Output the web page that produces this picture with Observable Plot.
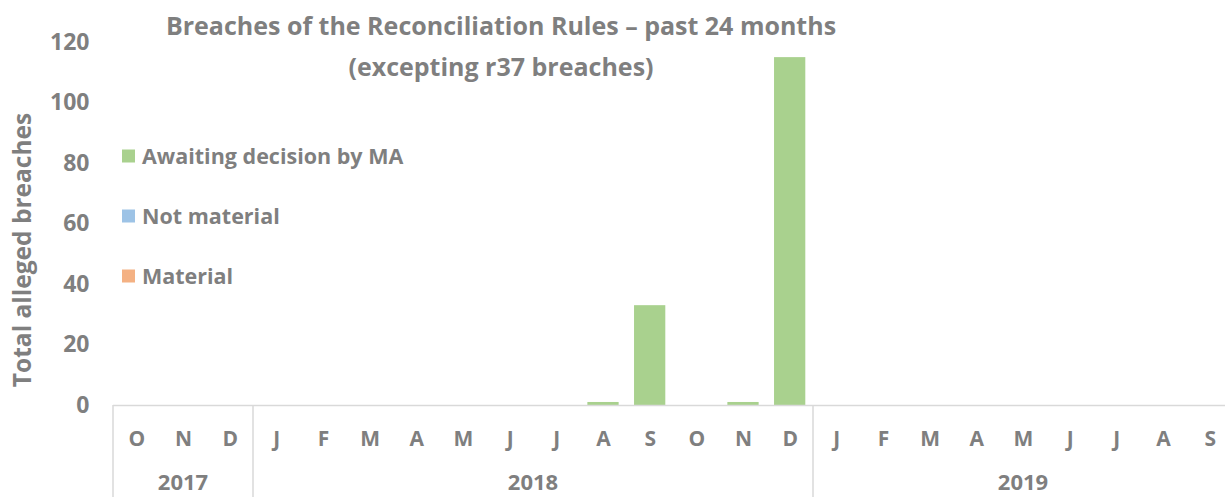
<!DOCTYPE html>
<html>
<head>
<meta charset="utf-8">
<script src="https://cdn.jsdelivr.net/npm/d3@7"></script>
<script src="https://cdn.jsdelivr.net/npm/@observablehq/plot@0.6"></script>
<style>
  html, body { margin: 0; padding: 0; background: #fff; }
  svg { display: block; }
</style>
</head>
<body>
<div id="chart"></div>
<script>
const monthLabels = ["O","N","D","J","F","M","A","M","J","J","A","S","O","N","D","J","F","M","A","M","J","J","A","S"];
const yearLabels  = ["2017","2017","2017","2018","2018","2018","2018","2018","2018","2018","2018","2018","2018","2018","2018","2019","2019","2019","2019","2019","2019","2019","2019","2019"];
const awaiting    = [0,0,0,0,0,0,0,0,0,0,1,33,0,1,115,0,0,0,0,0,0,0,0,0];
const notMaterial = [0,0,0,0,0,0,0,0,0,0,0,0,0,0,0,0,0,0,0,0,0,0,0,0];
const material    = [0,0,0,0,0,0,0,0,0,0,0,0,0,0,0,0,0,0,0,0,0,0,0,0];
const seriesNames = ["Awaiting decision by MA","Not material","Material"];
const seriesColors = ["#a9d18e","#9dc3e6","#f4b183"];
const yTicks = [0,20,40,60,80,100,120];
const titleLines = ["Breaches of the Reconciliation Rules \u2013 past 24 months","(excepting r37 breaches)"];
const yTitle = "Total alleged breaches";

const keys = monthLabels.map((m,i) => i);
const seriesValues = [awaiting, notMaterial, material];
const data = [];
// stack order bottom -> top: Material, Not material, Awaiting
[2,1,0].forEach(s => keys.forEach(k => data.push({key:k, series:seriesNames[s], value:seriesValues[s][k]})));

const FONT = "'Open Sans', Lato, sans-serif";
const GRAY = "#7f7f7f";

const plot = Plot.plot({
  width: 1225,
  height: 497,
  marginLeft: 113,
  marginRight: 0,
  marginTop: 42,
  marginBottom: 92,
  style: {fontFamily: FONT, fontWeight: "bold", color: GRAY, background: "#fff"},
  x: {type: "band", domain: keys, range: [113, 1233], paddingInner: 0.33, paddingOuter: 0.165, round: false},
  y: {domain: [0, 120]},
  color: {domain: seriesNames, range: seriesColors},
  marks: [
    Plot.barY(data, {x: "key", y: "value", fill: "series", order: [seriesNames[2], seriesNames[1], seriesNames[0]]}),
    Plot.ruleY([0], {stroke: "#d9d9d9", strokeWidth: 1.5}),
    Plot.axisY({ticks: yTicks, tickSize: 0, tickPadding: 24, label: null, fontSize: 23, fill: GRAY}),
    Plot.axisX({tickSize: 0, tickPadding: 0, dy: 26, label: null, tickFormat: i => monthLabels[i], fontSize: 21, fill: GRAY})
  ]
});

const svg = d3.select(plot);
const xs = plot.scale("x");
const step = xs.step;
const x0 = xs.apply(keys[0]) - (step - xs.bandwidth) / 2;
const yZero = plot.scale("y").apply(0);

// year groups: separators + labels
const groups = [];
yearLabels.forEach((y, i) => {
  if (!groups.length || groups[groups.length-1].year !== y) groups.push({year: y, start: i, end: i});
  else groups[groups.length-1].end = i;
});
const g = svg.append("g");
groups.forEach(gr => {
  const left = x0 + gr.start * step;
  const right = x0 + (gr.end + 1) * step;
  g.append("line").attr("x1", left).attr("x2", left).attr("y1", yZero).attr("y2", 497)
    .attr("stroke", "#d9d9d9").attr("stroke-width", 1.5);
  g.append("text").attr("x", (left + right) / 2).attr("y", 482).attr("dy", "0.35em")
    .attr("text-anchor", "middle").attr("font-size", 22).attr("font-weight", "bold")
    .attr("fill", GRAY).attr("font-family", FONT).text(gr.year);
});

// title
titleLines.forEach((t, i) => {
  svg.append("text").attr("x", 501).attr("y", 26 + i * 41).attr("dy", "0.35em")
    .attr("text-anchor", "middle").attr("font-size", 25).attr("font-weight", "bold")
    .attr("fill", GRAY).attr("font-family", FONT).text(t);
});

// y title
svg.append("text").attr("transform", "translate(22,250) rotate(-90)").attr("dy", "0.35em")
  .attr("text-anchor", "middle").attr("font-size", 24.5).attr("font-weight", "bold")
  .attr("fill", GRAY).attr("font-family", FONT).text(yTitle);

// legend
seriesNames.forEach((name, i) => {
  const cy = 156 + i * 60;
  svg.append("rect").attr("x", 122).attr("y", cy - 6.5).attr("width", 13).attr("height", 13).attr("fill", seriesColors[i]);
  svg.append("text").attr("x", 142).attr("y", cy).attr("dy", "0.35em").attr("text-anchor", "start")
    .attr("font-size", 21.5).attr("font-weight", "bold").attr("fill", GRAY).attr("font-family", FONT).text(name);
});

document.getElementById("chart").appendChild(plot);
</script>
</body>
</html>
